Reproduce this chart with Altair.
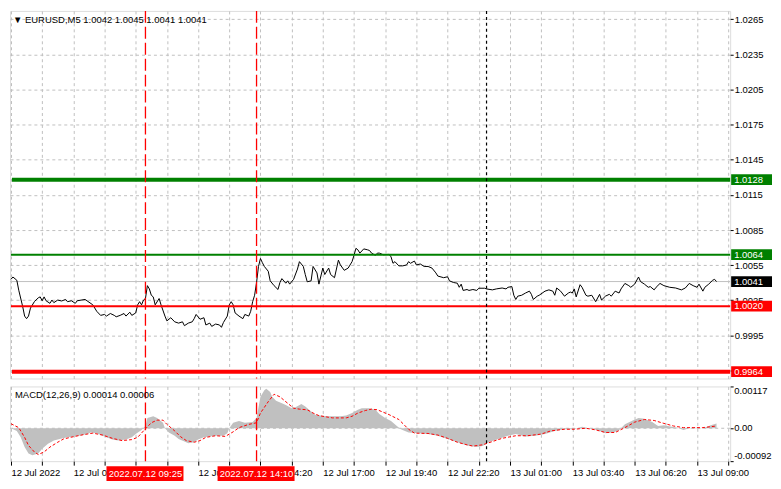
import json
import altair as alt
import pandas as pd

# ---------------- data ----------------
# 5-minute bar index counted from 12 Jul 03:40
price_bar = [0, 1, 3, 4, 6, 7, 8, 9, 10, 12, 14, 15, 16, 17, 18, 20, 21, 22, 24, 26, 28, 29, 31, 33, 34,
             38, 39, 42, 44, 46, 48, 49, 51, 53, 54, 56, 58, 59, 61, 62, 64, 65, 66, 67, 68, 69, 70, 71,
             72, 73, 74, 76, 77, 79, 80, 82, 84, 86, 88, 89, 91, 93, 94, 95, 97, 99, 100, 102, 103, 105,
             107, 108, 109, 111, 112, 113, 114, 115, 117, 119, 120, 122, 123, 124, 125, 126, 127, 128,
             129, 130, 132, 133, 135, 137, 138, 139, 141, 142, 143, 145, 147, 148, 150, 151, 152, 154,
             155, 157, 158, 160, 161, 163, 164, 166, 168, 169, 171, 173, 175, 176, 177, 178, 179, 181,
             183, 184, 185, 187, 188, 189, 191, 194, 195, 196, 197, 199, 201, 203, 204, 205, 207, 208,
             210, 212, 214, 216, 218, 219, 222, 224, 225, 227, 229, 230, 231, 232, 234, 235, 237, 239,
             240, 243, 244, 247, 249, 252, 254, 255, 257, 258, 259, 260, 262, 264, 266, 267, 268, 270,
             271, 274, 276, 278, 279, 280, 282, 284, 286, 287, 288, 289, 290, 292, 293, 295, 296, 298,
             300, 302, 303, 305, 307, 308, 310, 312, 313, 315, 317, 318, 320, 322, 323, 325, 327, 328,
             330, 331, 333, 335, 338, 341, 344, 346, 348, 350, 352, 353, 355, 356, 358, 360, 361, 362]
price_val = [1.00429, 1.00449, 1.00421, 1.00336, 1.00197, 1.00115, 1.00093, 1.00115, 1.00183, 1.00238,
             1.00271, 1.00279, 1.00246, 1.00279, 1.00246, 1.00224, 1.00252, 1.00230, 1.00252, 1.00244,
             1.00257, 1.00238, 1.00246, 1.00224, 1.00246, 1.00257, 1.00246, 1.00211, 1.00156, 1.00121,
             1.00129, 1.00115, 1.00137, 1.00121, 1.00109, 1.00121, 1.00137, 1.00115, 1.00148, 1.00121,
             1.00142, 1.00211, 1.00238, 1.00211, 1.00252, 1.00265, 1.00375, 1.00347, 1.00293, 1.00279,
             1.00211, 1.00265, 1.00211, 1.00115, 1.00074, 1.00101, 1.00066, 1.00055, 1.00066, 1.00033,
             1.00055, 1.00066, 1.00093, 1.00129, 1.00088, 1.00101, 1.00039, 1.00055, 1.00027, 1.00047,
             1.00039, 1.00019, 1.00060, 1.00115, 1.00211, 1.00238, 1.00211, 1.00142, 1.00115, 1.00093,
             1.00129, 1.00115, 1.00156, 1.00238, 1.00293, 1.00402, 1.00539, 1.00607, 1.00571, 1.00539,
             1.00498, 1.00416, 1.00375, 1.00342, 1.00402, 1.00435, 1.00396, 1.00416, 1.00388, 1.00429,
             1.00517, 1.00580, 1.00539, 1.00470, 1.00408, 1.00416, 1.00539, 1.00484, 1.00388, 1.00525,
             1.00470, 1.00525, 1.00470, 1.00443, 1.00593, 1.00552, 1.00506, 1.00525, 1.00580, 1.00634,
             1.00694, 1.00681, 1.00653, 1.00689, 1.00681, 1.00675, 1.00653, 1.00634, 1.00653, 1.00653,
             1.00639, 1.00642, 1.00621, 1.00566, 1.00580, 1.00544, 1.00544, 1.00552, 1.00580, 1.00566,
             1.00585, 1.00552, 1.00560, 1.00539, 1.00539, 1.00525, 1.00484, 1.00457, 1.00443, 1.00451,
             1.00416, 1.00402, 1.00396, 1.00361, 1.00388, 1.00334, 1.00342, 1.00334, 1.00342, 1.00334,
             1.00353, 1.00353, 1.00347, 1.00339, 1.00347, 1.00355, 1.00347, 1.00361, 1.00367, 1.00293,
             1.00257, 1.00285, 1.00293, 1.00312, 1.00328, 1.00301, 1.00257, 1.00285, 1.00293, 1.00328,
             1.00339, 1.00328, 1.00293, 1.00355, 1.00328, 1.00285, 1.00312, 1.00320, 1.00312, 1.00347,
             1.00279, 1.00383, 1.00361, 1.00293, 1.00285, 1.00293, 1.00238, 1.00301, 1.00252, 1.00285,
             1.00301, 1.00285, 1.00328, 1.00312, 1.00347, 1.00394, 1.00375, 1.00361, 1.00388, 1.00449,
             1.00410, 1.00388, 1.00361, 1.00367, 1.00339, 1.00361, 1.00394, 1.00375, 1.00361, 1.00355,
             1.00339, 1.00355, 1.00394, 1.00375, 1.00361, 1.00388, 1.00328, 1.00361, 1.00388, 1.00421,
             1.00429, 1.00410]

hist_bar = [0, 3, 5, 7, 9, 11, 14, 16, 19, 22, 25, 29, 32, 35, 39, 41, 44, 46, 49, 52, 55, 59, 62, 64,
            67, 69, 70, 73, 75, 78, 79, 81, 84, 86, 89, 91, 94, 96, 99, 102, 105, 109, 111, 112, 114,
            117, 120, 124, 126, 128, 130, 131, 133, 134, 136, 139, 141, 144, 146, 149, 151, 154, 156,
            159, 162, 165, 169, 172, 175, 178, 180, 184, 187, 189, 192, 195, 198, 200, 204, 209, 214,
            219, 224, 229, 234, 239, 242, 245, 250, 255, 259, 264, 269, 274, 279, 284, 289, 293, 295,
            299, 302, 305, 309, 312, 315, 319, 322, 325, 329, 332, 335, 339, 342, 345, 349, 352, 355,
            359, 362]
hist_val = [0.0, -0.000073, -0.000254, -0.000526, -0.000707, -0.000753, -0.000707, -0.000571,
            -0.000435, -0.000345, -0.000299, -0.000254, -0.000236, -0.000209, -0.000163, -0.000118,
            -0.000136, -0.000190, -0.000254, -0.000317, -0.000345, -0.000317, -0.000254, -0.000163,
            -0.000045, 0.000063, 0.000290, 0.000336, 0.000290, 0.000154, 0.0, -0.000118, -0.000209,
            -0.000299, -0.000372, -0.000417, -0.000390, -0.000317, -0.000254, -0.000227, -0.000209,
            -0.000209, -0.000136, 0.0, 0.000154, 0.000200, 0.000154, 0.000172, 0.000290, 0.000880,
            0.001061, 0.001107, 0.001016, 0.000880, 0.000771, 0.000698, 0.000653, 0.000562, 0.000590,
            0.000680, 0.000608, 0.000472, 0.000381, 0.000354, 0.000336, 0.000336, 0.000336, 0.000354,
            0.000426, 0.000517, 0.000562, 0.000562, 0.000517, 0.000399, 0.000290, 0.000200, 0.000063,
            -0.000027, -0.000118, -0.000136, -0.000163, -0.000209, -0.000299, -0.000390, -0.000481,
            -0.000526, -0.000499, -0.000390, -0.000299, -0.000209, -0.000163, -0.000227, -0.000209,
            -0.000163, -0.000073, -0.000027, -0.000027, 0.000045, 0.000018, -0.000027, -0.000073,
            -0.000136, -0.000118, -0.000054, 0.000109, 0.000218, 0.000290, 0.000263, 0.000172,
            0.000063, 0.000082, 0.000045, 0.000018, -0.000045, 0.000018, 0.000018, -0.000009,
            0.000082, 0.000136]

signal_bar = [0, 4, 7, 9, 12, 14, 17, 20, 24, 27, 32, 37, 42, 47, 52, 57, 62, 65, 68, 72, 75, 78, 80,
              84, 87, 90, 94, 97, 100, 105, 110, 114, 117, 122, 126, 128, 132, 135, 138, 142, 145, 148,
              152, 155, 158, 162, 165, 172, 175, 178, 182, 185, 188, 194, 199, 204, 207, 214, 219, 224,
              229, 234, 237, 242, 247, 252, 259, 265, 272, 277, 284, 289, 295, 300, 305, 310, 315, 320,
              325, 330, 335, 340, 345, 350, 355, 362]
signal_val = [0.000127, 0.000018, -0.000254, -0.000481, -0.000662, -0.000735, -0.000662, -0.000526,
              -0.000390, -0.000299, -0.000236, -0.000181, -0.000136, -0.000190, -0.000281, -0.000345,
              -0.000317, -0.000254, -0.000073, 0.000154, 0.000227, 0.000227, 0.000109, -0.000073,
              -0.000236, -0.000345, -0.000390, -0.000345, -0.000254, -0.000209, -0.000227, -0.000100,
              0.000018, 0.000109, 0.000154, 0.000426, 0.000744, 0.000952, 0.000880, 0.000698, 0.000562,
              0.000535, 0.000517, 0.000426, 0.000354, 0.000317, 0.000290, 0.000290, 0.000336, 0.000426,
              0.000499, 0.000535, 0.000517, 0.000381, 0.000245, -0.000027, -0.000136, -0.000145,
              -0.000190, -0.000281, -0.000390, -0.000463, -0.000499, -0.000463, -0.000372, -0.000281,
              -0.000209, -0.000209, -0.000163, -0.000073, -0.000027, -0.000027, 0.0, -0.000045,
              -0.000118, -0.000118, 0.000018, 0.000172, 0.000245, 0.000218, 0.000136, 0.000063,
              0.000018, 0.000018, 0.000018, 0.000063]

level_vals = [1.0128, 1.0064, 1.0020, 0.9964]
level_text = ["1.0128", "1.0064", "1.0020", "0.9964"]
current_price = [1.0041]
current_text = ["1.0041"]

price_ticks = [1.0265, 1.0235, 1.0205, 1.0175, 1.0145, 1.0115, 1.0085, 1.0055, 1.0025, 0.9995, 0.9965]
macd_ticks = [0.00117, 0.0, -0.00092]
macd_tick_text = ["0.00117", "0.00", "-0.00092"]
tick_bars = list(range(0, 369, 16))
# the 09:00 label is entirely hidden behind the 09:25 marker box in the reference
time_labels = ["12 Jul 2022", "12 Jul 06:20", "", "12 Jul 11:40", "12 Jul 14:20",
               "12 Jul 17:00", "12 Jul 19:40", "12 Jul 22:20", "13 Jul 01:00", "13 Jul 03:40",
               "13 Jul 06:20", "13 Jul 09:00"]
marker_bars = [69, 126]
marker_text = ["2022.07.12 09:25", "2022.07.12 14:10"]
day_sep_bars = [244]
title_text = ["\u25bc EURUSD,M5  1.0042 1.0045 1.0041 1.0041"]
macd_title = ["MACD(12,26,9) 0.00014 0.00006"]

# ---------------- styles / layout ----------------
W, H1, H2 = 723, 369, 75
BOXW = 42
FONT = "Liberation Sans"
FS = 9.5
GRID = "#c0c0c0"
LEVEL_STYLE = [("#008000", 4), ("#008000", 2), ("#ff0000", 2), ("#ff0000", 4)]
BOX_HALF = 0.00046          # half height of the price label boxes, in price units
MACD_BASELINES = ["top", "middle", "bottom"]

xs = alt.Scale(domain=[-0.5, 369], nice=False, zero=False)
ys = alt.Scale(domain=[0.99582, 1.02722], nice=False, zero=False)
ms = alt.Scale(domain=[-0.00092, 0.00117], nice=False, zero=False)

price_df = pd.DataFrame({"bar": price_bar, "price": price_val})
hist_df = pd.DataFrame({"bar": hist_bar, "val": hist_val})
sig_df = pd.DataFrame({"bar": signal_bar, "val": signal_val})
mark_df = pd.DataFrame({"bar": marker_bars, "label": marker_text})
sep_df = pd.DataFrame({"bar": day_sep_bars})

# ---------------- axes ----------------
AX_X_MAIN = alt.Axis(values=tick_bars, labels=False, ticks=False, domain=False, title=None,
                     grid=True, gridDash=[3, 3], gridColor=GRID)
AX_Y_MAIN = alt.Axis(orient="right", values=price_ticks, format=".4f", tickSize=3, title=None,
                     tickColor="black", domain=False, grid=True, gridDash=[3, 3],
                     gridColor=GRID, labelFont=FONT, labelFontSize=FS,
                     labelColor="black", labelPadding=1, labelOverlap=False)
label_expr = ("datum.value % 32 === 0 ? " + json.dumps(time_labels) +
              "[datum.value / 32] : ''")
AX_X_MACD = alt.Axis(values=tick_bars, labelExpr=label_expr, labelAlign="left", title=None,
                     labelPadding=2, tickSize=4, tickColor="black", domain=False,
                     grid=True, gridDash=[3, 3], gridColor=GRID, labelFont=FONT,
                     labelFontSize=FS, labelColor="black", labelFlush=False,
                     labelOverlap=False)
AX_Y_MACD = alt.Axis(orient="right", values=macd_ticks, title=None, labels=False,
                     tickSize=3, tickColor="black", domain=False, grid=False)


def xm(field="bar"):
    return alt.X(f"{field}:Q", scale=xs, title=None, axis=AX_X_MAIN)


def ym(field="price"):
    return alt.Y(f"{field}:Q", scale=ys, title=None, axis=AX_Y_MAIN)


def xq(field="bar"):
    return alt.X(f"{field}:Q", scale=xs, title=None, axis=AX_X_MACD)


def yq(field="val"):
    return alt.Y(f"{field}:Q", scale=ms, title=None, axis=AX_Y_MACD)


# ---------------- main price panel ----------------
cur_df = pd.DataFrame({"price": current_price, "label": current_text})
layers = [
    alt.Chart(price_df).mark_line(color="black", strokeWidth=1, opacity=0).encode(x=xm(), y=ym()),
    alt.Chart(cur_df).mark_rule(color=GRID, strokeWidth=1).encode(y=ym()),
    alt.Chart(price_df).mark_line(color="black", strokeWidth=1).encode(x=xm(), y=ym()),
]
for v, t, (c, w) in zip(level_vals, level_text, LEVEL_STYLE):
    d = alt.Chart(pd.DataFrame({"price": [v], "label": [t]}))
    layers.append(d.mark_rule(color=c, strokeWidth=w).encode(
        x=alt.value(w / 2), x2=alt.value(W), y=ym()))

layers.append(alt.Chart(mark_df).mark_rule(color="red", strokeWidth=1.3, strokeDash=[12, 4]).encode(x=xm()))
layers.append(alt.Chart(sep_df).mark_rule(color="black", strokeWidth=1.2, strokeDash=[3, 3]).encode(x=xm()))

for v, t, (c, w) in zip(level_vals + current_price, level_text + current_text,
                        LEVEL_STYLE + [("black", 1)]):
    d = alt.Chart(pd.DataFrame({"price": [v], "label": [t]}))
    layers.append(d.transform_calculate(
        lo=f"datum.price - {BOX_HALF}", hi=f"datum.price + {BOX_HALF}").mark_rect(
        color=c, opacity=1).encode(
        x=alt.value(W + 1), x2=alt.value(W + BOXW), y=ym("lo"), y2="hi:Q"))
    layers.append(d.mark_text(color="white", align="left", baseline="middle", font=FONT,
                              fontSize=FS).encode(x=alt.value(W + 4), y=ym(), text="label:N"))

layers.append(alt.Chart(pd.DataFrame({"t": title_text})).mark_text(
    align="left", baseline="middle", font=FONT, fontSize=FS, color="black").encode(
    x=alt.value(3), y=alt.value(9), text="t:N"))

main = alt.layer(*layers).properties(width=W, height=H1)

# ---------------- MACD panel ----------------
hist = alt.Chart(hist_df).mark_area(color=GRID, interpolate="linear", opacity=1).encode(
    x=xq(), y=yq(), y2=alt.datum(0))
zero = alt.Chart(pd.DataFrame({"val": [0.0]})).mark_rule(
    color=GRID, strokeDash=[3, 3]).encode(y=yq())
signal = alt.Chart(sig_df).mark_line(color="red", strokeWidth=1, strokeDash=[3, 2]).encode(
    x=xq(), y=yq())
red_v2 = alt.Chart(mark_df).mark_rule(color="red", strokeWidth=1.3, strokeDash=[12, 4]).encode(x=xq())
sep_v2 = alt.Chart(sep_df).mark_rule(color="black", strokeWidth=1.2, strokeDash=[3, 3]).encode(x=xq())
date_box = alt.Chart(mark_df).transform_calculate(
    lo="datum.bar - 20", hi="datum.bar + 19.5").mark_rect(color="red", opacity=1).encode(
    x=xq("lo"), x2="hi:Q", y=alt.value(H2 + 5), y2=alt.value(H2 + 20))
date_txt = alt.Chart(mark_df).mark_text(
    color="white", align="center", baseline="middle", font=FONT, fontSize=FS).encode(
    x=xq(), y=alt.value(H2 + 13), text="label:N")
macd_lbl = alt.Chart(pd.DataFrame({"t": macd_title})).mark_text(
    align="left", baseline="middle", font=FONT, fontSize=FS, color="black").encode(
    x=alt.value(5), y=alt.value(9), text="t:N")

macd_layers = [hist, zero, signal, red_v2, sep_v2, macd_lbl, date_box, date_txt]
for v, t, b in zip(macd_ticks, macd_tick_text, MACD_BASELINES):
    macd_layers.append(alt.Chart(pd.DataFrame({"val": [v], "t": [t]})).mark_text(
        align="left", baseline=b, font=FONT, fontSize=FS, color="black").encode(
        x=alt.value(W + 4), y=yq(), text="t:N"))

macd = alt.layer(*macd_layers).properties(width=W, height=H2)

chart = alt.vconcat(
    main, macd, spacing=4, background="white",
    padding={"left": 0, "top": 0, "right": 0, "bottom": 0},
).configure_view(stroke="black", strokeWidth=1).configure(padding=0)

chart.save("out.html", embed_options={"renderer": "svg", "actions": False})
